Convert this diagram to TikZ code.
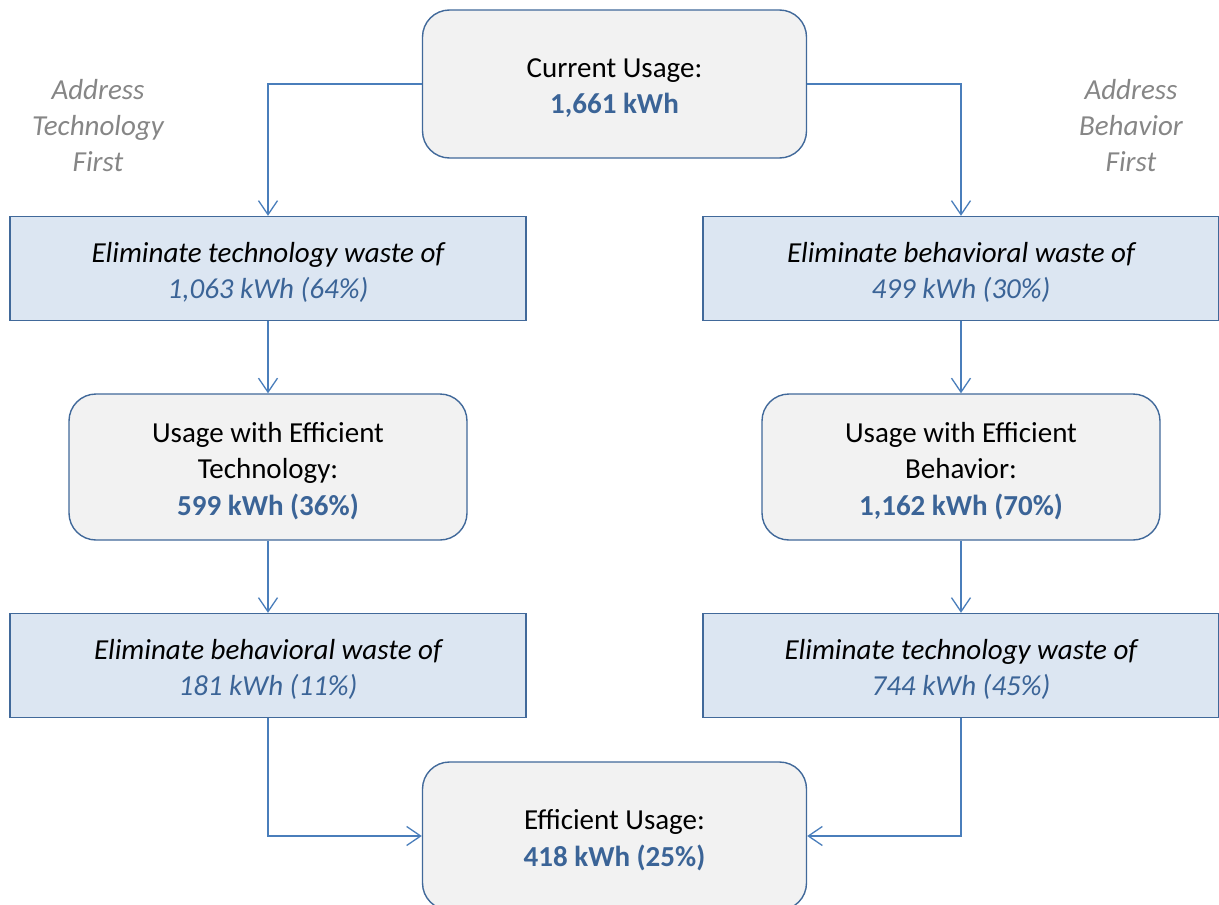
\documentclass[tikz,border=0pt]{standalone}
\usepackage{fontspec}
\setmainfont{Carlito}
\usetikzlibrary{arrows.meta}
\definecolor{boxline}{HTML}{41699A}
\definecolor{connline}{HTML}{4A7EBB}
\definecolor{grayfill}{HTML}{F2F2F2}
\definecolor{bluefill}{HTML}{DCE6F2}
\definecolor{bluetext}{HTML}{3B6497}
\definecolor{graytext}{HTML}{868686}
\tikzset{
  every node/.style={font=\fontsize{29}{36.5}\selectfont, align=center, inner sep=0pt},
  roundbox/.style={draw=boxline, line width=1.4pt, fill=grayfill, rounded corners=27pt,
    minimum width=384pt, minimum height=148pt},
  midbox/.style={roundbox, minimum width=398pt, minimum height=146pt},
  wastebox/.style={draw=boxline, line width=1.4pt, fill=bluefill,
    minimum width=516pt, minimum height=104pt},
  boxtext/.style={yshift=-4pt},
  conn/.style={draw=connline, line width=1.3pt, -{Straight Barb[length=14pt,width=19pt,line width=1.3pt]}},
  side/.style={text=graytext, font=\fontsize{29}{36}\selectfont\itshape},
}
\newcommand{\bval}[1]{\textcolor{bluetext}{\bfseries #1}}
\newcommand{\ival}[1]{\textcolor{bluetext}{#1}}
\begin{document}
\begin{tikzpicture}[x=1pt,y=-1pt]
\useasboundingbox (0,0) rectangle (1219,905);
\clip (0,0) rectangle (1219,905);
\node[roundbox] (top) at (614.5,84) {};
\node[boxtext] (topt) at (top) {Current Usage:\\\bval{1,661 kWh}};
\node[side] (lside) at (98,126) {Address\\Technology\\First};
\node[side] (rside) at (1131,126) {Address\\Behavior\\First};
\node[wastebox] (l1) at (268,268.5) {};
\node[boxtext] (l1t) at (l1) {\itshape Eliminate technology waste of\\\itshape\ival{1,063 kWh (64\%)}};
\node[wastebox] (r1) at (961,268.5) {};
\node[boxtext] (r1t) at (r1) {\itshape Eliminate behavioral waste of\\\itshape\ival{499 kWh (30\%)}};
\node[midbox] (l2) at (268,467) {};
\node[boxtext] (l2t) at (l2) {Usage with Efficient\\Technology:\\\bval{599 kWh (36\%)}};
\node[midbox] (r2) at (961,467) {};
\node[boxtext] (r2t) at (r2) {Usage with Efficient\\Behavior:\\\bval{1,162 kWh (70\%)}};
\node[wastebox] (l3) at (268,665.5) {};
\node[boxtext] (l3t) at (l3) {\itshape Eliminate behavioral waste of\\\itshape\ival{181 kWh (11\%)}};
\node[wastebox] (r3) at (961,665.5) {};
\node[boxtext] (r3t) at (r3) {\itshape Eliminate technology waste of\\\itshape\ival{744 kWh (45\%)}};
\node[roundbox] (bot) at (614.5,836) {};
\node[boxtext] (bott) at (bot) {Efficient Usage:\\\bval{418 kWh (25\%)}};
\draw[conn] (top.west) -| (l1.north);
\draw[conn] (top.east) -| (r1.north);
\draw[conn] (l1.south) -- (l2.north);
\draw[conn] (r1.south) -- (r2.north);
\draw[conn] (l2.south) -- (l3.north);
\draw[conn] (r2.south) -- (r3.north);
\draw[conn] (l3.south) |- (bot.west);
\draw[conn] (r3.south) |- (bot.east);
\end{tikzpicture}
\end{document}
